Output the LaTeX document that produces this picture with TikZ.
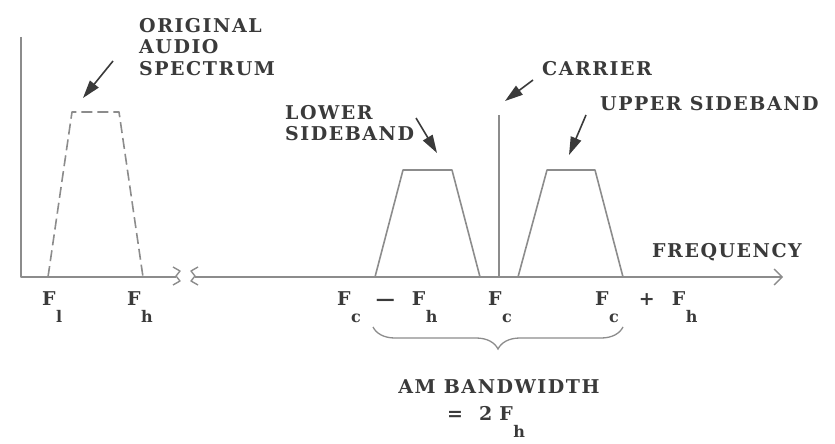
\documentclass[tikz,border=0pt]{standalone}
\usepackage{fontspec}
\setmainfont{DejaVu Serif}[LetterSpace=8]
\usepackage{tikz}
\usetikzlibrary{positioning, arrows.meta, decorations.pathreplacing}
\definecolor{ink}{HTML}{3A3A3A}
\definecolor{trace}{HTML}{8C8C8C}
\newcommand\fsub[2]{#1\kern0.5pt\lower17pt\hbox{\fontsize{16}{16}\selectfont #2}}

\begin{document}
\begin{tikzpicture}[x=1pt, y=-1pt,
  font=\fontsize{19}{21.5}\selectfont\bfseries,
  lbl/.style={text=ink, inner sep=0pt, align=left},
  axis/.style={draw=trace, line width=1.4pt, line join=round},
  band/.style={draw=trace, line width=1.6pt, line join=round},
  audio/.style={band, dash pattern=on 11pt off 5pt},
  ptr/.style={-{Triangle[length=18pt,width=11pt]}, draw=ink, line width=1.6pt},
  brace/.style={draw=trace, line width=1.3pt, decorate, decoration={brace, amplitude=22pt}}
]
\useasboundingbox (0,0) rectangle (835,444);
% --- axes ---
\coordinate (o) at (21,277);
\draw[axis] (21,37) -- (o) -- (176,277);
\draw[axis] (173,267) -- (180,271) -- (176,276) -- (180,281) -- (173,285);
\draw[axis] (198,267) -- (191,271) -- (195,276) -- (191,281) -- (198,285);
\draw[axis, -{Straight Barb[length=8pt,width=16pt]}] (195,277) -- (783,277);
% --- spectra ---
\draw[audio] (48,277) -- (72,112) -- (119,112) -- (143,277);
\draw[band] (375,277) -- (403,170) -- (452,170) -- (480,277);
\draw[band] (499,277) -- (499,115);
\draw[band] (518,277) -- (547,170) -- (595,170) -- (623,277);
% --- labels ---
\node[lbl, anchor=north west] (orig) at (139,18) {ORIGINAL\\AUDIO\\SPECTRUM};
\node[lbl, anchor=north west] (lsb) at (285,105) {LOWER\\SIDEBAND};
\node[lbl, anchor=base west] (car) at (542,75) {CARRIER};
\node[lbl, anchor=base west] (usb) at (600,110) {UPPER SIDEBAND};
\node[lbl, anchor=base west] (freq) at (652,257) {FREQUENCY};
% --- pointers ---
\coordinate (origT) at (113,61);  \coordinate (origH) at (83,98);
\coordinate (lsbT) at (416,118);  \coordinate (lsbH) at (437,153);
\coordinate (carT) at (533,80);   \coordinate (carH) at (505,101);
\coordinate (usbT) at (586,115);  \coordinate (usbH) at (569,155);
\draw[ptr] (origT) -- (origH);
\draw[ptr] (lsbT) -- (lsbH);
\draw[ptr] (carT) -- (carH);
\draw[ptr] (usbT) -- (usbH);
% --- frequency marks ---
\node[lbl, anchor=base west] (fl) at (42,305) {\fsub{F}{l}};
\node[lbl, anchor=base west] (fh) at (127,305) {\fsub{F}{h}};
\node[lbl, anchor=base west] (fcl) at (337,305) {\fsub{F}{c}\hspace{15pt}---\hspace{17pt}\fsub{F}{h}};
\node[lbl, anchor=base west] (fc) at (488,305) {\fsub{F}{c}};
\node[lbl, anchor=base west] (fcu) at (595,305) {\fsub{F}{c}\hspace{20pt}+\hspace{17pt}\fsub{F}{h}};
% --- bandwidth ---
\coordinate (bwR) at (623,327); \coordinate (bwL) at (373,327);
\draw[brace] (bwR) -- (bwL);
\node[lbl, anchor=base] (bw) at (499,393) {AM BANDWIDTH};
\node[lbl, anchor=base west] (bwv) at (447,420) {=\hspace{16pt}2\hspace{7pt}\fsub{F}{h}};
\end{tikzpicture}
\end{document}
